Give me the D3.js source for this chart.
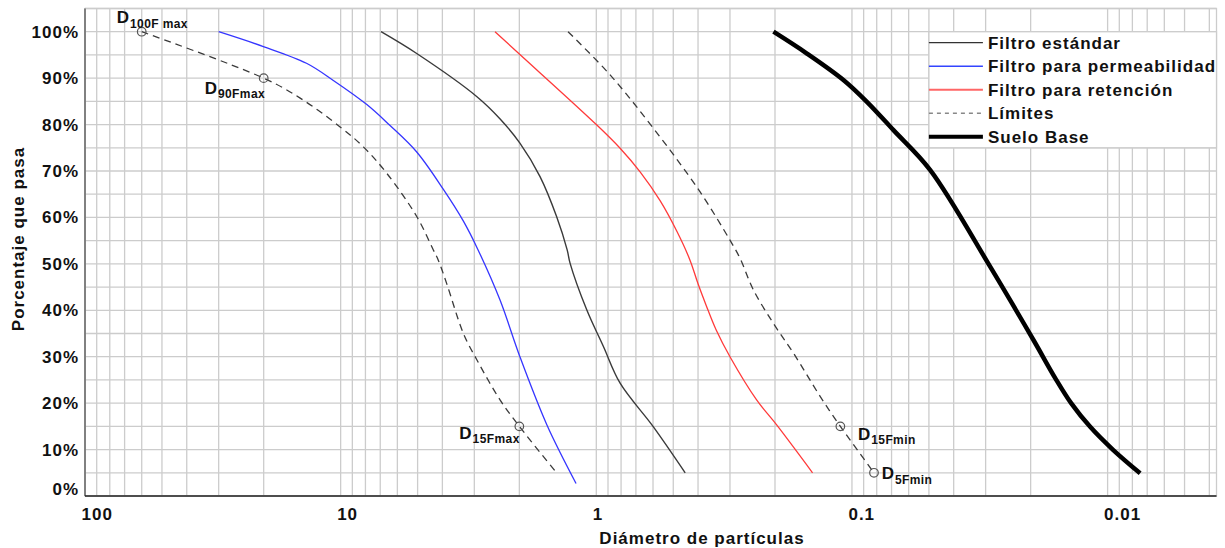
<!DOCTYPE html>
<html><head><meta charset="utf-8">
<script src="https://cdn.jsdelivr.net/npm/d3@7"></script>
<style>
body{margin:0;background:#fff;}
svg text{font-family:"Liberation Sans",Arial,sans-serif;font-weight:bold;fill:#111;letter-spacing:1px;}
</style></head><body>
<svg id="c" width="1225" height="548"></svg>
<script>
// ---------- data ----------
const xTicks = [100, 10, 1, 0.1, 0.01];
const xTickLabels = ["100", "10", "1", "0.1", "0.01"];
const yTicks = [0, 10, 20, 30, 40, 50, 60, 70, 80, 90, 100];
const yTickLabels = ["0%", "10%", "20%", "30%", "40%", "50%", "60%", "70%", "80%", "90%", "100%"];
const xTitle = "Diámetro de partículas";
const yTitle = "Porcentaje que pasa";

const seriesNames = ["Filtro estándar", "Filtro para permeabilidad", "Filtro para retención", "Límites", "Suelo Base"];

const estandarD = [6.95, 5.04, 2.93, 2.378, 1.99, 1.66, 1.43, 1.30, 1.266, 1.09, 0.938, 0.807, 0.598, 0.449];
const estandarP = [100, 95.3, 86, 81.2, 76.0, 68.8, 60.2, 53, 50.1, 40.1, 32.2, 24.3, 14.9, 5];

const permeabD = [30, 20.06, 13.6, 10.68, 7.9, 6.44, 5.04, 3.97, 3.31, 2.90, 2.38, 1.99, 1.56, 1.2];
const permeabP = [100, 96.8, 93.2, 89.5, 84.3, 79.9, 74.1, 66.1, 59.2, 53, 42.2, 30, 15.3, 2.7];

const retencionD = [2.49, 1.99, 0.995, 0.807, 0.674, 0.563, 0.483, 0.43, 0.40, 0.372, 0.34, 0.30, 0.236, 0.197, 0.1426];
const retencionP = [100, 95.1, 79.9, 74.9, 69.8, 63.6, 56.9, 50.8, 45.7, 41.1, 35.8, 30, 20.7, 15.3, 5];

const limMaxD = [60, 20, 14.4, 10.05, 8.15, 6.6, 5.04, 4.34, 4.15, 3.85, 3.31, 2.93, 2.38, 2.0, 1.43];
const limMaxP = [100, 90, 85.7, 79.5, 75.2, 69.5, 60.2, 53, 50.8, 45.8, 35, 29.3, 20.7, 15, 5];

const limMinD = [1.29, 0.883, 0.598, 0.395, 0.30, 0.274, 0.243, 0.203, 0.169, 0.133, 0.111, 0.082];
const limMinP = [100, 90.7, 79.2, 65.7, 55.1, 51.2, 44.4, 37.2, 30.7, 21.4, 15, 5];

const sueloD = [0.2028, 0.150, 0.108, 0.0874, 0.0688, 0.0494, 0.0288, 0.0195, 0.01603, 0.01389, 0.0117, 0.0095, 0.00746];
const sueloP = [100, 95.3, 89.6, 84.9, 78.8, 70.2, 49.4, 33.6, 25.4, 20, 14.9, 9.9, 4.9];

const markerD = [60, 20, 2.0, 0.111, 0.082];
const markerP = [100, 90, 15, 15, 5];
const markerSub = ["100F max", "90Fmax", "15Fmax", "15Fmin", "5Fmin"];

// ---------- layout / styles ----------
const svg = d3.select("#c");
const x = d3.scaleLog().domain([100, 0.00375]).range([85, 1216.5]);
const y = d3.scaleLinear().domain([0, 105]).range([496, 8.5]);
const [x0, x1] = x.range();
const [yb, yt] = y.range();
const gridColor = "#cccccc";

// gridlines (vertical: 1..9 x 10^k)
const vGrid = [];
for (let e = -3; e <= 2; e++) for (let m = 1; m <= 9; m++) {
  const v = m * Math.pow(10, e);
  if (v <= 100 && v >= 0.00375) vGrid.push(v);
}
const hGrid = d3.range(0, 105.1, 5);
const grid = svg.append("g");
grid.selectAll("line.v").data(vGrid).join("line")
  .attr("x1", d => x(d)).attr("x2", d => x(d)).attr("y1", yt).attr("y2", yb)
  .attr("stroke", gridColor).attr("stroke-width", 1.3);
grid.selectAll("line.h").data(hGrid).join("line")
  .attr("x1", x0).attr("x2", x1).attr("y1", d => y(d)).attr("y2", d => y(d))
  .attr("stroke", gridColor).attr("stroke-width", 1.3);
// border
svg.append("rect").attr("x", x0).attr("y", yt).attr("width", x1 - x0).attr("height", yb - yt)
  .attr("fill", "none").attr("stroke", gridColor).attr("stroke-width", 1.3);
// axes lines
svg.append("line").attr("x1", x0).attr("x2", x0).attr("y1", yt).attr("y2", yb)
  .attr("stroke", "#666").attr("stroke-width", 1.5);
svg.append("line").attr("x1", x0).attr("x2", x1).attr("y1", yb).attr("y2", yb)
  .attr("stroke", "#222").attr("stroke-width", 1.5);

// x tick labels
svg.append("g").selectAll("text").data(xTicks).join("text")
  .attr("x", d => x(d) - 3.5).attr("y", 519.5)
  .attr("font-size", 17).attr("text-anchor", "start")
  .text((d, i) => xTickLabels[i]);
// y tick labels
svg.append("g").selectAll("text").data(yTicks).join("text")
  .attr("x", 79).attr("y", (d, i) => y(d) + 6 - (i === 0 ? 7 : 0))
  .attr("font-size", 17).attr("text-anchor", "end")
  .text((d, i) => yTickLabels[i]);
// titles
svg.append("text").attr("x", 702).attr("y", 544).attr("font-size", 17)
  .attr("text-anchor", "middle").text(xTitle);
svg.append("text").attr("transform", "translate(24,239) rotate(-90)").attr("font-size", 17)
  .attr("text-anchor", "middle").text(yTitle);

// ---------- curves ----------
const line = d3.line().x(d => x(d[0])).y(d => y(d[1])).curve(d3.curveCatmullRom.alpha(0.5));
const zip = (a, b) => a.map((v, i) => [v, b[i]]);
const curves = [
  {pts: zip(limMaxD, limMaxP), color: "#3a3a3a", w: 1.3, dash: "7,5"},
  {pts: zip(limMinD, limMinP), color: "#3a3a3a", w: 1.3, dash: "7,5"},
  {pts: zip(permeabD, permeabP), color: "#3535ff", w: 1.3, dash: null},
  {pts: zip(estandarD, estandarP), color: "#3a3a3a", w: 1.4, dash: null},
  {pts: zip(retencionD, retencionP), color: "#ff3a3a", w: 1.3, dash: null},
  {pts: zip(sueloD, sueloP), color: "#000", w: 4.5, dash: null}
];
svg.append("g").selectAll("path").data(curves).join("path")
  .attr("d", d => line(d.pts)).attr("fill", "none")
  .attr("stroke", d => d.color).attr("stroke-width", d => d.w)
  .attr("stroke-dasharray", d => d.dash).attr("stroke-linejoin", "round");

// ---------- markers ----------
const labelOffsets = [[-25, -8.4], [-59, 15.6], [-60, 12.6], [17.6, 13.3], [7.7, 6.7]];
const mk = svg.append("g");
mk.selectAll("circle").data(markerD).join("circle")
  .attr("cx", d => x(d)).attr("cy", (d, i) => y(markerP[i])).attr("r", 4.3)
  .attr("fill", "none").attr("stroke", "#555").attr("stroke-width", 1.2);
const lbl = mk.selectAll("text").data(markerD).join("text")
  .attr("x", (d, i) => x(d) + labelOffsets[i][0])
  .attr("y", (d, i) => y(markerP[i]) + labelOffsets[i][1])
  .attr("font-size", 17);
lbl.append("tspan").text("D");
lbl.append("tspan").attr("font-size", 12).attr("dy", 4.4).style("letter-spacing", "0.4px")
  .text((d, i) => markerSub[i]);

// ---------- legend ----------
const legStyles = [
  {color: "#333", w: 1.2, dash: null},
  {color: "#3344ff", w: 1.5, dash: null},
  {color: "#ff6666", w: 2, dash: null},
  {color: "#888", w: 1.5, dash: "4,4"},
  {color: "#000", w: 4, dash: null}
];
const lx = x(0.05), lyTop = y(100), lyBot = y(75);
const leg = svg.append("g");
leg.append("rect").attr("x", lx).attr("y", lyTop).attr("width", x1 - lx).attr("height", lyBot - lyTop)
  .attr("fill", "#fff").attr("stroke", gridColor).attr("stroke-width", 1.3);
const rows = leg.selectAll("g").data(seriesNames).join("g")
  .attr("transform", (d, i) => `translate(${lx},${42.7 + i * 23.5})`);
rows.append("line").attr("x1", 0).attr("x2", 54).attr("y1", 0).attr("y2", 0)
  .attr("stroke", (d, i) => legStyles[i].color).attr("stroke-width", (d, i) => legStyles[i].w)
  .attr("stroke-dasharray", (d, i) => legStyles[i].dash);
rows.append("text").attr("x", 59).attr("y", 6.2).attr("font-size", 17).text(d => d);
</script>
</body></html>
